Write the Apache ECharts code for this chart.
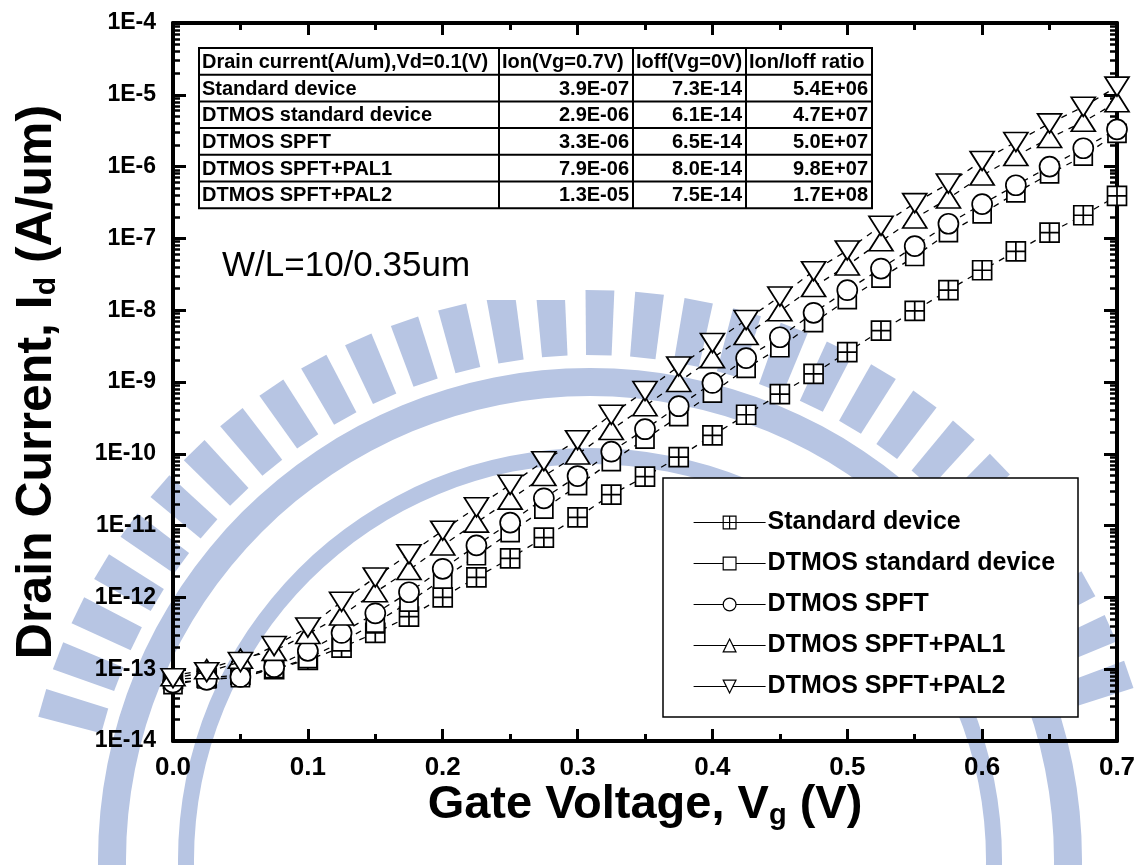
<!DOCTYPE html>
<html>
<head>
<meta charset="utf-8">
<script src="https://cdn.jsdelivr.net/npm/echarts@6/dist/echarts.min.js"></script>
<style>
html, body { margin: 0; padding: 0; background: #fff; }
#chart { width: 1138px; height: 865px; }
</style>
</head>
<body>
<div id="chart"></div>
<script>
// Gate voltage sweep (V)
const gateVoltage = [0, 0.025, 0.05, 0.075, 0.1, 0.125, 0.15, 0.175, 0.2, 0.225, 0.25, 0.275,
  0.3, 0.325, 0.35, 0.375, 0.4, 0.425, 0.45, 0.475, 0.5, 0.525, 0.55, 0.575, 0.6, 0.625, 0.65, 0.675, 0.7];

// Drain current (A/um) for each device
const standardDevice = [7.3e-14, 7.6e-14, 8.3e-14, 1.0e-13, 1.35e-13, 2.0e-13, 3.2e-13, 5.4e-13, 1.0e-12,
  1.9e-12, 3.5e-12, 6.8e-12, 1.3e-11, 2.7e-11, 4.8e-11, 9.0e-11, 1.8e-10, 3.5e-10, 6.8e-10, 1.3e-9,
  2.6e-9, 5.2e-9, 9.8e-9, 1.9e-8, 3.6e-8, 6.6e-8, 1.2e-7, 2.1e-7, 3.9e-7];
const dtmosStandard = [6.1e-14, 7.3e-14, 7.6e-14, 1.02e-13, 1.4e-13, 2.4e-13, 4.4e-13, 8.6e-13, 1.8e-12,
  3.8e-12, 8.0e-12, 1.7e-11, 3.6e-11, 7.8e-11, 1.6e-10, 3.3e-10, 7.0e-10, 1.55e-9, 3.0e-9, 6.7e-9,
  1.4e-8, 2.8e-8, 5.6e-8, 1.2e-7, 2.2e-7, 4.3e-7, 7.9e-7, 1.4e-6, 2.9e-6];
const dtmosSpft = [6.5e-14, 7.1e-14, 7.8e-14, 1.07e-13, 1.8e-13, 3.2e-13, 6.0e-13, 1.18e-12, 2.5e-12,
  5.3e-12, 1.1e-11, 2.4e-11, 4.9e-11, 1.07e-10, 2.2e-10, 4.6e-10, 9.7e-10, 2.15e-9, 4.2e-9, 9.2e-9,
  1.9e-8, 3.8e-8, 7.8e-8, 1.6e-7, 3.0e-7, 5.5e-7, 1.0e-6, 1.8e-6, 3.3e-6];
const dtmosSpftPal1 = [8.0e-14, 1.0e-13, 1.4e-13, 1.8e-13, 3.1e-13, 5.6e-13, 1.18e-12, 2.4e-12, 5.3e-12,
  1.1e-11, 2.3e-11, 4.9e-11, 9.8e-11, 2.15e-10, 4.6e-10, 1.0e-9, 2.15e-9, 4.5e-9, 9.7e-9, 2.1e-8,
  4.2e-8, 9.1e-8, 1.9e-7, 3.6e-7, 7.5e-7, 1.4e-6, 2.5e-6, 4.2e-6, 7.9e-6];
const dtmosSpftPal2 = [7.5e-14, 9.1e-14, 1.26e-13, 2.1e-13, 3.8e-13, 8.7e-13, 1.9e-12, 4.0e-12, 8.5e-12,
  1.8e-11, 3.7e-11, 7.9e-11, 1.55e-10, 3.5e-10, 7.5e-10, 1.65e-9, 3.5e-9, 7.3e-9, 1.55e-8, 3.5e-8,
  6.8e-8, 1.5e-7, 3.1e-7, 5.8e-7, 1.2e-6, 2.2e-6, 4.0e-6, 6.8e-6, 1.3e-5];

const seriesNames = ['Standard device', 'DTMOS standard device', 'DTMOS SPFT', 'DTMOS SPFT+PAL1', 'DTMOS SPFT+PAL2'];

// Summary table
const tableHeader = ['Drain current(A/um),Vd=0.1(V)', 'Ion(Vg=0.7V)', 'Ioff(Vg=0V)', 'Ion/Ioff ratio'];
const tableIon = ['3.9E-07', '2.9E-06', '3.3E-06', '7.9E-06', '1.3E-05'];
const tableIoff = ['7.3E-14', '6.1E-14', '6.5E-14', '8.0E-14', '7.5E-14'];
const tableRatio = ['5.4E+06', '4.7E+07', '5.0E+07', '9.8E+07', '1.7E+08'];

// Decade exponents for the current axis
const decadeMin = -14;
const decadeMax = -4;

const FONT = '"Liberation Sans", Arial, Helvetica, sans-serif';
const WATERMARK = '#b7c5e3';

const minorLogTicks = [];
for (let e = decadeMin; e < decadeMax; e++) {
  for (let k = 2; k <= 9; k++) minorLogTicks.push(e + Math.log10(k));
}

const boxedCross = 'path://M0,0L20,0L20,20L0,20Z M10,0L10,20 M0,10L20,10';

function curve(idx, values, symbol, size, rotate) {
  return {
    name: seriesNames[idx],
    type: 'line',
    xAxisIndex: 0,
    yAxisIndex: 0,
    data: gateVoltage.map((v, i) => [v, values[i]]),
    symbol: symbol,
    symbolSize: size,
    symbolRotate: rotate || 0,
    showAllSymbol: true,
    silent: true,
    lineStyle: { color: '#000', width: 1.3, type: [6, 6] },
    itemStyle: { color: '#fff', borderColor: '#000', borderWidth: 1.7 },
    emphasis: { disabled: true },
    z: 2 + idx * 0.01
  };
}

// Faint seal in the background: toothed rim and concentric bands
const sealEls = [];
(function buildSeal() {
  const cx = 590, cy = 860;
  const rIn = 505, rOut = 570;
  for (let a = 196; a <= 344; a += 5) {
    const h = 1.45 * Math.PI / 180;
    const t = a * Math.PI / 180;
    const pts = [
      [cx + rIn * Math.cos(t - h), cy + rIn * Math.sin(t - h)],
      [cx + rOut * Math.cos(t - h), cy + rOut * Math.sin(t - h)],
      [cx + rOut * Math.cos(t + h), cy + rOut * Math.sin(t + h)],
      [cx + rIn * Math.cos(t + h), cy + rIn * Math.sin(t + h)]
    ];
    sealEls.push({ type: 'polygon', silent: true, shape: { points: pts }, style: { fill: WATERMARK } });
  }
  sealEls.push({ type: 'ring', silent: true, shape: { cx: cx, cy: cy, r: 492, r0: 464 }, style: { fill: WATERMARK } });
  sealEls.push({ type: 'ring', silent: true, shape: { cx: cx, cy: cy, r: 412, r0: 396 }, style: { fill: WATERMARK } });
})();

// Table drawing
const colEdges = [199, 499, 633, 746, 872];
const tableTop = 48;
const rowH = 26.7;
const tableFont = 'bold 20px ' + FONT;
const tableEls = [];
const nRows = 6;
tableEls.push({ type: 'rect', shape: { x: colEdges[0], y: tableTop, width: colEdges[4] - colEdges[0], height: rowH * nRows },
  style: { fill: '#fff', stroke: '#000', lineWidth: 2 } });
for (let r = 1; r < nRows; r++) {
  tableEls.push({ type: 'line', shape: { x1: colEdges[0], y1: tableTop + r * rowH, x2: colEdges[4], y2: tableTop + r * rowH },
    style: { stroke: '#000', lineWidth: 2 } });
}
for (let c = 1; c < 4; c++) {
  tableEls.push({ type: 'line', shape: { x1: colEdges[c], y1: tableTop, x2: colEdges[c], y2: tableTop + rowH * nRows },
    style: { stroke: '#000', lineWidth: 2 } });
}
tableHeader.forEach((t, c) => {
  tableEls.push({ type: 'text', x: colEdges[c] + 3, y: tableTop + rowH / 2 + 1,
    style: { text: t, font: tableFont, fill: '#000', align: 'left', verticalAlign: 'middle' } });
});
seriesNames.forEach((name, r) => {
  const cy = tableTop + (r + 1) * rowH + rowH / 2 + 1;
  tableEls.push({ type: 'text', x: colEdges[0] + 3, y: cy,
    style: { text: name, font: tableFont, fill: '#000', align: 'left', verticalAlign: 'middle' } });
  [tableIon[r], tableIoff[r], tableRatio[r]].forEach((t, c) => {
    tableEls.push({ type: 'text', x: colEdges[c + 2] - 4, y: cy,
      style: { text: t, font: tableFont, fill: '#000', align: 'right', verticalAlign: 'middle' } });
  });
});

const tickLine = { color: '#000', width: 3 };
const option = {
  animation: false,
  backgroundColor: '#fff',
  grid: { left: 173, right: 21, top: 23, bottom: 124, containLabel: false, outerBoundsMode: 'none' },
  xAxis: [
    {
      type: 'value', position: 'bottom', min: 0, max: 0.7, interval: 0.1,
      axisLine: { show: true, onZero: false, lineStyle: { color: '#000', width: 4 } },
      axisTick: { show: true, inside: true, length: 12, lineStyle: tickLine },
      minorTick: { show: true, splitNumber: 2, length: 7, lineStyle: tickLine },
      splitLine: { show: false },
      axisLabel: {
        show: true, margin: 14, color: '#000', fontSize: 26, fontWeight: 'bold', fontFamily: FONT,
        formatter: v => v.toFixed(1)
      },
      name: '{a|Gate Voltage, V}{s|g}{a| (V)}',
      nameLocation: 'middle',
      nameGap: 41,
      nameMoveOverlap: false,
      nameTextStyle: {
        color: '#000',
        rich: {
          a: { fontSize: 47, fontWeight: 'bold', fontFamily: FONT, color: '#000', lineHeight: 48, verticalAlign: 'top' },
          s: { fontSize: 29, fontWeight: 'bold', fontFamily: FONT, color: '#000', lineHeight: 29, verticalAlign: 'bottom', padding: [40, 0, 0, 0] }
        }
      }
    },
    {
      type: 'value', position: 'top', min: 0, max: 0.7, interval: 0.1,
      axisLine: { show: true, onZero: false, lineStyle: { color: '#000', width: 4 } },
      axisTick: { show: true, inside: true, length: 12, lineStyle: tickLine },
      minorTick: { show: true, splitNumber: 2, length: 7, lineStyle: tickLine },
      splitLine: { show: false },
      axisLabel: { show: false }
    }
  ],
  yAxis: [
    {
      type: 'log', logBase: 10, min: Math.pow(10, decadeMin), max: Math.pow(10, decadeMax), position: 'left',
      axisLine: { show: true, onZero: false, lineStyle: { color: '#000', width: 4 } },
      axisTick: { show: false }, axisLabel: { show: false }, splitLine: { show: false }, minorTick: { show: false }
    },
    {
      type: 'value', min: decadeMin, max: decadeMax, interval: 1, position: 'left',
      axisLine: { show: false },
      axisTick: { show: true, inside: true, length: 13, lineStyle: tickLine },
      splitLine: { show: false },
      axisLabel: {
        show: true, margin: 17, color: '#000', fontSize: 23, fontWeight: 'bold', fontFamily: FONT,
        formatter: v => '1E' + Math.round(v)
      },
      name: '{a|Drain Current, I}{s|d}{a| (A/um)}',
      nameLocation: 'middle',
      nameRotate: 90,
      nameGap: 111,
      nameMoveOverlap: false,
      nameTextStyle: {
        color: '#000',
        rich: {
          a: { fontSize: 50, fontWeight: 'bold', fontFamily: FONT, color: '#000', lineHeight: 50, verticalAlign: 'top' },
          s: { fontSize: 30, fontWeight: 'bold', fontFamily: FONT, color: '#000', lineHeight: 30, verticalAlign: 'bottom', padding: [30, 0, 0, 0] }
        }
      }
    },
    {
      type: 'value', min: decadeMin, max: decadeMax, position: 'left',
      axisLine: { show: false },
      axisTick: { show: true, inside: true, length: 7, customValues: minorLogTicks, lineStyle: { color: '#000', width: 2.5 } },
      splitLine: { show: false }, axisLabel: { show: false }
    },
    {
      type: 'value', min: decadeMin, max: decadeMax, interval: 1, position: 'right',
      axisLine: { show: true, onZero: false, lineStyle: { color: '#000', width: 4 } },
      axisTick: { show: true, inside: true, length: 13, lineStyle: tickLine },
      splitLine: { show: false }, axisLabel: { show: false }
    },
    {
      type: 'value', min: decadeMin, max: decadeMax, position: 'right',
      axisLine: { show: false },
      axisTick: { show: true, inside: true, length: 7, customValues: minorLogTicks, lineStyle: { color: '#000', width: 2.5 } },
      splitLine: { show: false }, axisLabel: { show: false }
    }
  ],
  legend: {
    orient: 'vertical',
    left: 688,
    top: 505,
    itemGap: 16,
    itemWidth: 72,
    itemHeight: 16,
    selectedMode: false,
    textStyle: { color: '#000', fontSize: 25, fontWeight: 'bold', fontFamily: FONT, padding: [0, 0, 0, -3] },
    lineStyle: { type: 'solid', width: 1.2, color: '#000' },
    itemStyle: { borderWidth: 1.2 },
    data: seriesNames
  },
  graphic: [
    { type: 'group', z: -10, silent: true, children: sealEls },
    // legend frame
    { type: 'rect', z: 1, shape: { x: 663, y: 478, width: 415, height: 239 },
      style: { fill: '#fff', stroke: '#000', lineWidth: 1.5 } },
    // device geometry note
    { type: 'rect', z: 1, shape: { x: 205, y: 226, width: 368, height: 74 }, style: { fill: '#fff' } },
    { type: 'text', z: 3, x: 222, y: 266,
      style: { text: 'W/L=10/0.35um', font: '35px ' + FONT, fill: '#000', align: 'left', verticalAlign: 'middle' } },
    { type: 'group', z: 3, children: tableEls }
  ],
  series: [
    curve(0, standardDevice, boxedCross, 19),
    curve(1, dtmosStandard, 'rect', 18),
    curve(2, dtmosSpft, 'circle', 20),
    curve(3, dtmosSpftPal1, 'triangle', [24, 19]),
    curve(4, dtmosSpftPal2, 'triangle', [24, 19], 180)
  ]
};

const chart = echarts.init(document.getElementById('chart'), null, { renderer: 'canvas' });
chart.setOption(option);
</script>
</body>
</html>
